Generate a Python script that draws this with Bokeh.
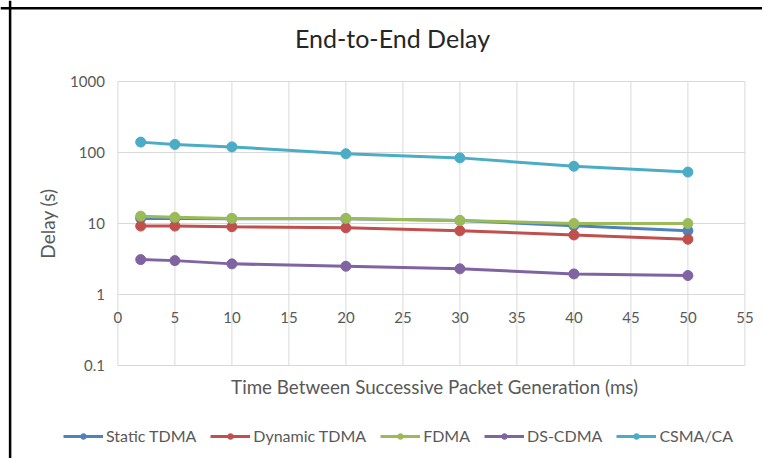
from bokeh.plotting import figure
from bokeh.models import (Legend, LegendItem, FixedTicker, LinearAxis, LogAxis,
                          Label, Span)
from bokeh.embed import file_html
from bokeh.resources import INLINE

# ---- data ----
x_ms = [2, 5, 10, 20, 30, 40, 50]
static_tdma = [11.8, 11.8, 11.7, 11.7, 11.0, 9.3, 7.9]
dynamic_tdma = [9.2, 9.2, 9.0, 8.7, 7.9, 6.9, 6.0]
fdma = [12.7, 12.2, 11.8, 11.8, 11.0, 10.0, 10.0]
ds_cdma = [3.1, 3.0, 2.7, 2.5, 2.3, 1.95, 1.85]
csma_ca = [140, 130, 120, 96, 84, 64, 53]
series_names = ["Static TDMA", "Dynamic TDMA", "FDMA", "DS-CDMA", "CSMA/CA"]
series_values = [static_tdma, dynamic_tdma, fdma, ds_cdma, csma_ca]
colors = ["#4F81BD", "#C0504D", "#9BBB59", "#8064A2", "#4BACC6"]
x_ticks = [0, 5, 10, 15, 20, 25, 30, 35, 40, 45, 50, 55]
y_ticks = [0.1, 1, 10, 100, 1000]
y_tick_labels = ["0.1", "1", "10", "100", "1000"]
title_text = "End-to-End Delay"
x_title = "Time Between  Successive Packet Generation (ms)"
y_title = "Delay (s)"

FONT = "Lato"
TXT = "#595959"
GRID = "#D9D9D9"

# ---- layout (pixels inside the canvas) ----
W, H = 762, 458
X0_PX = 117.4          # where x = 0 sits
PX_PER_X = 11.4        # pixels per ms
Y_TOP_PX = 81          # where y = 1000 sits (from canvas top)
PX_PER_DEC = 71        # pixels per decade
x_lo = -X0_PX / PX_PER_X
x_hi = (W - X0_PX) / PX_PER_X
top_dec = 3 + Y_TOP_PX / PX_PER_DEC
bot_dec = 3 - (H - Y_TOP_PX) / PX_PER_DEC

p = figure(width=W, height=H, y_axis_type="log",
           x_range=(x_lo, x_hi), y_range=(10 ** bot_dec, 10 ** top_dec),
           output_backend="svg", toolbar_location=None, tools="", title=None,
           min_border_left=0, min_border_right=0,
           min_border_top=0, min_border_bottom=0,
           x_axis_location=None, y_axis_location=None)
p.toolbar.logo = None
p.outline_line_color = None
p.background_fill_color = "white"
p.border_fill_color = "white"
p.xgrid.visible = False
p.ygrid.visible = False

# chart-area border on the left and top edges
p.add_layout(Span(location=x_lo + 9.6 / PX_PER_X, dimension="height",
                  line_color="black", line_width=2.5))
p.add_layout(Span(location=10 ** (top_dec - 7.8 / PX_PER_DEC), dimension="width",
                  line_color="black", line_width=2.5))

# gridlines limited to the plot area (0..55, 0.1..1000)
p.segment(x0=x_ticks, x1=x_ticks, y0=[y_ticks[0]] * len(x_ticks),
          y1=[y_ticks[-1]] * len(x_ticks), line_color=GRID, line_width=1)
p.segment(x0=[x_ticks[0]] * len(y_ticks), x1=[x_ticks[-1]] * len(y_ticks),
          y0=y_ticks, y1=y_ticks, line_color=GRID, line_width=1)

# y axis at x = 0
ya = LogAxis(ticker=FixedTicker(ticks=y_ticks, minor_ticks=[]),
             fixed_location=x_ticks[0], bounds=(y_ticks[0], y_ticks[-1]))
ya.major_label_overrides = {t: l for t, l in zip(y_ticks, y_tick_labels)}
ya.axis_line_color = None
ya.major_tick_line_color = None
ya.minor_tick_line_color = None
ya.major_tick_out = 0
ya.major_tick_in = 0
ya.minor_tick_out = 0
ya.major_label_standoff = 13
ya.major_label_text_font = FONT
ya.major_label_text_font_size = "15px"
ya.major_label_text_color = TXT
ya.axis_label = y_title
ya.axis_label_text_font = FONT
ya.axis_label_text_font_size = "19px"
ya.axis_label_text_font_style = "normal"
ya.axis_label_text_color = TXT
ya.axis_label_standoff = 8
p.add_layout(ya, "left")

# x axis crossing at y = 1
xa = LinearAxis(ticker=FixedTicker(ticks=x_ticks, minor_ticks=[]),
                fixed_location=y_ticks[1], bounds=(x_ticks[0], x_ticks[-1]))
xa.axis_line_color = None
xa.major_tick_line_color = None
xa.minor_tick_line_color = None
xa.major_tick_out = 0
xa.major_tick_in = 0
xa.major_label_standoff = 17
xa.major_label_text_font = FONT
xa.major_label_text_font_size = "15px"
xa.major_label_text_color = TXT
p.add_layout(xa, "below")

# x axis title, below the bottom of the plot area
xt = LinearAxis(ticker=FixedTicker(ticks=[]), fixed_location=y_ticks[0],
                bounds=(x_ticks[0], x_ticks[-1] + 1), axis_line_color=None,
                major_tick_line_color=None, minor_tick_line_color=None,
                major_tick_out=0, major_tick_in=0)
xt.axis_label = x_title
xt.axis_label_text_font = FONT
xt.axis_label_text_font_size = "18.8px"
xt.axis_label_text_font_style = "normal"
xt.axis_label_text_color = TXT
xt.axis_label_standoff = 9
p.add_layout(xt, "below")

# chart title
p.add_layout(Label(x=392, y=H - 37, x_units="screen", y_units="screen",
                   text=title_text, text_align="center", text_baseline="middle",
                   text_font=FONT, text_font_size="25px", text_color="#262626"))

items = []
for name, vals, col in zip(series_names, series_values, colors):
    r1 = p.line(x_ms, vals, line_color=col, line_width=3)
    r2 = p.scatter(x_ms, vals, marker="circle", size=10,
                   fill_color=col, line_color=col)
    items.append(LegendItem(label=name, renderers=[r1, r2]))

legend = Legend(items=items, orientation="horizontal", location=(63, 13),
                glyph_width=40, glyph_height=14, spacing=14, label_standoff=3,
                label_text_font=FONT, label_text_font_size="16px",
                label_text_color=TXT, border_line_color=None,
                background_fill_alpha=0, padding=0, margin=0)
p.add_layout(legend, "center")

open("out.html", "w").write(file_html(p, INLINE))
